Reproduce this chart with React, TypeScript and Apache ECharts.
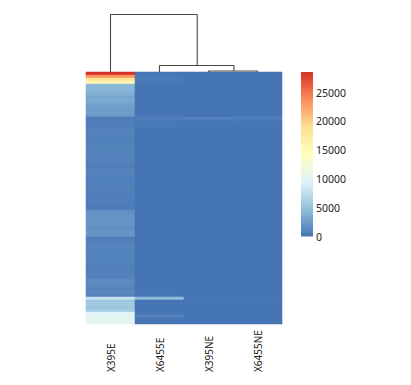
import React, { useEffect, useRef } from "react";
import * as echarts from "echarts";

const samples = ["X395E", "X6455E", "X395NE", "X6455NE"];
const palette = ["#4575B4", "#91BFDB", "#E0F3F8", "#FFFFBF", "#FEE090", "#FC8D59", "#D73027"];
const legendMax = 28600;

// One value per heatmap row, top to bottom.
const x395E = [
  28600, 23500, 18500, 15500, 4400, 4300, 4000, 3700, 3200, 3500, 3000, 2800, 2500, 2700, 2300,
  500, 600, 700, 700, 800, 900, 850, 700, 900, 950, 900, 1000, 950, 800, 1000,
  700, 600, 850, 900, 800, 650, 700, 750, 750, 850, 700, 600, 550, 600, 500, 450,
  1700, 1900, 2100, 2000, 2200, 1900, 1800, 2200, 2000,
  600, 800, 900, 1000, 950, 950, 800, 900, 950, 850, 750, 700, 800, 900,
  1400, 1400, 1200, 1000, 1200, 800,
  8000, 5500, 5800, 5400, 5900, 9500, 9900, 10200, 10100,
];
const x6455E = [
  0, 100, 500, 300, 0, 0, 0, 0, 0, 0, 0, 0, 0, 0, 0,
  600, 250, 100, 100, 0, 0, 0, 0, 0, 0, 0, 0, 0, 0, 0,
  0, 0, 0, 0, 0, 0, 0, 0, 0, 0, 0, 0, 0, 0, 0, 0,
  0, 0, 0, 0, 0, 0, 0, 0, 0,
  0, 0, 0, 0, 0, 0, 0, 0, 0, 0, 0, 0, 0, 0,
  0, 0, 0, 0, 0, 100,
  4600, 0, 0, 0, 0, 100, 800, 100, 0,
];
const x395NE = [
  0, 0, 0, 0, 0, 0, 0, 0, 0, 0, 0, 0, 0, 0, 0,
  800, 100, 0, 0, 0, 0, 0, 0, 0, 0, 0, 0, 0, 0, 0,
  0, 0, 0, 0, 0, 0, 0, 0, 0, 0, 0, 0, 0, 0, 0, 0,
  0, 0, 0, 0, 0, 0, 0, 0, 0,
  0, 0, 0, 0, 0, 0, 0, 0, 0, 0, 0, 0, 0, 0,
  0, 0, 0, 0, 0, 0,
  150, 0, 0, 0, 0, 0, 0, 0, 0,
];
const x6455NE = [
  0, 0, 0, 0, 0, 0, 0, 0, 0, 0, 0, 0, 0, 0, 0,
  700, 100, 0, 0, 0, 0, 0, 0, 0, 0, 0, 0, 0, 0, 0,
  0, 0, 0, 0, 0, 0, 0, 0, 0, 0, 0, 0, 0, 0, 0, 0,
  0, 0, 0, 0, 0, 0, 0, 0, 0,
  0, 0, 0, 0, 0, 0, 0, 0, 0, 0, 0, 0, 0, 0,
  0, 0, 0, 0, 0, 0,
  150, 0, 0, 0, 0, 0, 0, 0, 0,
];
const columns = [x395E, x6455E, x395NE, x6455NE];

// Dendrogram merges: x in column units, y in merge height.
const mergeTop = [[0.5, 0], [0.5, 57.5], [2.27, 57.5], [2.27, 6.5]];
const mergeMid = [[1.5, 0], [1.5, 6.5], [3.02, 6.5], [3.02, 1]];
const mergeLow = [[2.5, 0], [2.5, 1], [3.5, 1], [3.5, 0]];

const fontFamily = "'Noto Sans', sans-serif";

export default function App() {
  const ref = useRef<HTMLDivElement>(null);
  useEffect(() => {
    if (!ref.current) return;
    const chart = echarts.init(ref.current, undefined, { renderer: "svg" });
    const rows = x395E.map((_, i) => String(i));
    const cells: number[][] = [];
    columns.forEach((col, c) => col.forEach((v, r) => cells.push([c, r, v])));
    const treeSeries = [mergeTop, mergeMid, mergeLow].map((d) => ({
      type: "line",
      xAxisIndex: 1,
      yAxisIndex: 1,
      data: d,
      symbol: "none",
      silent: true,
      lineStyle: { color: "#4a4a4a", width: 1.1 },
    }));
    chart.setOption({
      animation: false,
      backgroundColor: "#ffffff",
      grid: [
        { left: 86, top: 72, width: 196, height: 252 },
        { left: 86, top: 14, width: 196, height: 58 },
        { left: 301, top: 72, width: 12, height: 164.5 },
      ],
      xAxis: [
        {
          type: "category",
          gridIndex: 0,
          data: samples,
          axisLine: { show: false },
          axisTick: { show: false },
          splitLine: { show: false },
          axisLabel: {
            rotate: 90,
            align: "left",
            verticalAlign: "middle",
            margin: 48,
            interval: 0,
            fontSize: 10,
            color: "#222222",
            fontFamily,
          },
        },
        { type: "value", gridIndex: 1, min: 0, max: 4, show: false },
        { type: "category", gridIndex: 2, data: ["scale"], show: false },
      ],
      yAxis: [
        { type: "category", gridIndex: 0, data: rows, inverse: true, show: false },
        { type: "value", gridIndex: 1, min: 0, max: 58, show: false },
        {
          type: "value",
          gridIndex: 2,
          position: "right",
          min: 0,
          max: legendMax,
          interval: 5000,
          axisLine: { show: false },
          axisTick: { show: false },
          splitLine: { show: false },
          axisLabel: {
            margin: 3,
            fontSize: 10.5,
            color: "#222222",
            fontFamily,
            showMaxLabel: false,
            formatter: (v: number) => String(v),
          },
        },
      ],
      visualMap: {
        show: false,
        type: "continuous",
        seriesIndex: 0,
        min: 0,
        max: legendMax,
        inRange: { color: palette },
      },
      series: [
        {
          type: "heatmap",
          xAxisIndex: 0,
          yAxisIndex: 0,
          data: cells,
          silent: true,
          progressive: 0,
        },
        ...treeSeries,
        {
          type: "bar",
          xAxisIndex: 2,
          yAxisIndex: 2,
          data: [legendMax],
          barWidth: 12,
          silent: true,
          itemStyle: {
            color: new echarts.graphic.LinearGradient(
              0,
              1,
              0,
              0,
              palette.map((c, i) => ({ offset: i / (palette.length - 1), color: c }))
            ),
          },
        },
      ],
    });
    return () => chart.dispose();
  }, []);
  return (
    <div
      ref={ref}
      style={{ position: "absolute", left: 0, top: 0, width: 411, height: 385 }}
    />
  );
}
